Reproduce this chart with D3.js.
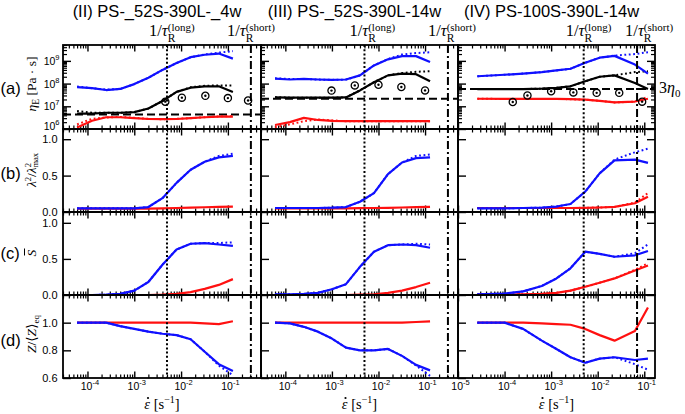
<!DOCTYPE html>
<html><head><meta charset="utf-8">
<script src="https://cdn.jsdelivr.net/npm/d3@7"></script>
<style>body{margin:0;background:#fff}svg{display:block}</style>
</head><body><svg id="c" width="685" height="414"></svg>
<script>
// ---------------- DATA ----------------
const panelTitles = ["(II) PS-_52S-390L-_4w", "(III) PS-_52S-390L-14w", "(IV) PS-100S-390L-14w"];
const rowLetters = ["(a)", "(b)", "(c)", "(d)"];
const xTickLabelsExp = ["-5", "-4", "-3", "-2", "-1"];
const yTickLabelsA = ["6", "7", "8", "9"];
const yTickLabelsB = ["0.0", "0.5", "1.0"];
const yTickLabelsC = ["0.0", "0.5", "1.0"];
const yTickLabelsD = ["0.6", "0.8", "1.0"];

// strain-rate grids [1/s]
const ratesA = [6e-5, 1.25e-4, 2.5e-4, 5e-4, 1e-3, 2e-3, 4e-3, 8e-3, 1.6e-2, 3.2e-2, 6.4e-2, 1.28e-1];
const ratesB = [2.6e-5, 1e-4, 2.5e-4, 6.3e-4, 1.3e-3, 2.6e-3, 5.4e-3, 1.1e-2, 2.3e-2, 6.3e-2, 1.2e-1];

// characteristic rates (1/tau_R long / short)
const rateLong = [5e-3, 5e-3, 5e-3];
const rateShort = [0.31, 0.31, 0.07];
// 3 eta0
const eta3 = [4.4e6, 2.15e7, 5.75e7];

// ---- (II) ----
const etaBlue_II    = [7.0e7, 6.3e7, 5.2e7, 5.8e7, 9.5e7, 1.8e8, 4.0e8, 8.0e8, 1.45e9, 1.86e9, 2.1e9, 1.26e9];
const etaBlueDot_II = [7.4e7, 6.3e7, 5.4e7, 5.8e7, 9.5e7, 1.8e8, 4.0e8, 8.0e8, 1.45e9, 1.9e9, 2.3e9, 2.7e9];
const etaBlack_II   = [4.8e6, 4.8e6, 5.2e6, 5.2e6, 5.5e6, 8.0e6, 1.7e7, 4.3e7, 6.6e7, 7.6e7, 7.6e7, 4.3e7];
const etaBlackDot_II= [6.2e6, 5.2e6, 5.2e6, 5.2e6, 5.5e6, 8.0e6, 1.7e7, 4.3e7, 6.9e7, 8.0e7, 8.3e7, 8.3e7];
const etaRed_II     = [1.15e6, 2.3e6, 3.3e6, 3.3e6, 3.0e6, 2.75e6, 2.7e6, 2.75e6, 3.0e6, 3.3e6, 3.5e6, 3.5e6];
const etaRedDot_II  = [1.6e6, 2.8e6, 3.2e6, 3.4e6, 3.1e6, 2.8e6, 2.7e6, 2.8e6, 3.0e6, 3.3e6, 3.6e6, 3.6e6];
const expRate_II    = [4.6e-3, 1.04e-2, 3.3e-2, 0.10, 0.27];
const expEta_II     = [1.6e7, 2.4e7, 2.9e7, 2.3e7, 1.8e7];
const lamBlue_II    = [0.05, 0.05, 0.05, 0.05, 0.05, 0.068, 0.19, 0.40, 0.58, 0.69, 0.75, 0.77];
const lamBlueDot_II = [0.05, 0.05, 0.05, 0.05, 0.05, 0.068, 0.19, 0.40, 0.58, 0.69, 0.77, 0.80];
const lamRed_II     = [0.045, 0.045, 0.045, 0.045, 0.045, 0.047, 0.05, 0.055, 0.06, 0.065, 0.07, 0.075];
const sBlue_II      = [0.0, 0.0, 0.005, 0.015, 0.06, 0.18, 0.42, 0.63, 0.71, 0.72, 0.70, 0.68];
const sBlueDot_II   = [0.0, 0.0, 0.005, 0.015, 0.06, 0.18, 0.42, 0.63, 0.71, 0.72, 0.72, 0.73];
const sRed_II       = [0, 0, 0, 0, 0, 0, 0.005, 0.015, 0.04, 0.085, 0.14, 0.22];
const zBlue_II      = [1.0, 1.0, 1.0, 0.975, 0.955, 0.935, 0.92, 0.91, 0.88, 0.79, 0.70, 0.65];
const zBlueDot_II   = [1.0, 1.0, 1.0, 0.975, 0.955, 0.935, 0.92, 0.91, 0.88, 0.79, 0.69, 0.62];
const zRed_II       = [1.0, 1.0, 1.0, 1.0, 1.0, 1.0, 1.0, 1.0, 1.0, 0.995, 0.99, 1.01];

// ---- (III) ----
const etaBlue_III    = [1.66e8, 1.51e8, 1.62e8, 1.51e8, 1.45e8, 1.51e8, 2.3e8, 6.3e8, 1.17e9, 1.62e9, 1.62e9, 8.9e8];
const etaBlueDot_III = [1.7e8, 1.6e8, 1.6e8, 1.5e8, 1.45e8, 1.5e8, 2.3e8, 6.3e8, 1.2e9, 1.9e9, 2.2e9, 2.4e9];
const etaBlack_III   = [2.45e7, 2.4e7, 2.4e7, 2.4e7, 2.4e7, 2.45e7, 5.0e7, 1.15e8, 2.3e8, 2.75e8, 2.6e8, 1.26e8];
const etaBlackDot_III= [2.5e7, 2.4e7, 2.4e7, 2.4e7, 2.4e7, 2.45e7, 5.0e7, 1.15e8, 2.3e8, 2.9e8, 3.3e8, 3.5e8];
const etaRed_III     = [1.5e6, 2.0e6, 3.1e6, 2.5e6, 2.3e6, 2.2e6, 2.2e6, 2.2e6, 2.2e6, 2.2e6, 2.2e6, 2.2e6];
const etaRedDot_III  = [1.2e6, 1.6e6, 2.2e6, 2.6e6, 2.4e6, 2.2e6, 2.2e6, 2.2e6, 2.2e6, 2.2e6, 2.2e6, 2.2e6];
const expRate_III    = [9.8e-4, 3.1e-3, 1.0e-2, 3.1e-2, 0.10];
const expEta_III     = [4.9e7, 8.3e7, 8.9e7, 7.1e7, 5.0e7];
const lamBlue_III    = [0.055, 0.055, 0.055, 0.055, 0.059, 0.068, 0.14, 0.26, 0.52, 0.68, 0.74, 0.75];
const lamBlueDot_III = [0.055, 0.055, 0.055, 0.055, 0.059, 0.068, 0.14, 0.26, 0.52, 0.68, 0.77, 0.79];
const lamRed_III     = [0.05, 0.05, 0.05, 0.05, 0.05, 0.05, 0.052, 0.055, 0.058, 0.062, 0.066, 0.07];
const sBlue_III      = [0.01, 0.01, 0.015, 0.03, 0.08, 0.15, 0.39, 0.60, 0.69, 0.70, 0.69, 0.655];
const sBlueDot_III   = [0.01, 0.01, 0.015, 0.03, 0.08, 0.15, 0.39, 0.60, 0.69, 0.70, 0.71, 0.70];
const sRed_III       = [0, 0, 0, 0, 0, 0, 0.005, 0.01, 0.03, 0.06, 0.11, 0.17];
const zBlue_III      = [1.0, 0.995, 0.97, 0.935, 0.885, 0.82, 0.80, 0.80, 0.81, 0.76, 0.695, 0.655];
const zBlueDot_III   = [1.0, 0.995, 0.97, 0.935, 0.885, 0.82, 0.80, 0.80, 0.81, 0.76, 0.69, 0.615];
const zRed_III       = [1.0, 1.0, 1.0, 1.0, 1.0, 1.0, 1.0, 1.0, 1.0, 1.0, 1.005, 1.01];

// ---- (IV) ----
const etaBlue_IV    = [2.1e8, 2.45e8, 2.75e8, 3.2e8, 3.8e8, 4.5e8, 8.3e8, 1.38e9, 1.66e9, 6.9e8, 2.75e8];
const etaBlueDot_IV = [2.1e8, 2.45e8, 2.75e8, 3.2e8, 3.8e8, 4.5e8, 8.3e8, 1.38e9, 1.7e9, 2.0e9, 2.4e9];
const etaBlack_IV   = [5.75e7, 5.75e7, 5.75e7, 6.0e7, 6.5e7, 7.6e7, 1.26e8, 2.0e8, 2.3e8, 1.07e8, 5.75e7];
const etaBlackDot_IV= [5.75e7, 5.75e7, 5.75e7, 6.0e7, 6.5e7, 7.6e7, 1.26e8, 2.0e8, 2.3e8, 3.2e8, 3.5e8];
const etaRed_IV     = [2.15e7, 2.1e7, 2.1e7, 2.1e7, 2.1e7, 2.05e7, 1.95e7, 1.74e7, 1.48e7, 1.62e7, 2.15e7];
const etaRedDot_IV  = [2.15e7, 2.1e7, 2.1e7, 2.1e7, 2.1e7, 2.05e7, 1.95e7, 1.74e7, 1.48e7, 1.6e7, 2.6e7];
const expRate_IV    = [1.5e-4, 3.1e-4, 1.0e-3, 3.0e-3, 9.5e-3, 2.9e-2, 9.0e-2];
const expEta_IV     = [1.55e7, 3.0e7, 4.6e7, 4.1e7, 3.9e7, 3.9e7, 1.6e7];
const lamBlue_IV    = [0.05, 0.05, 0.055, 0.059, 0.075, 0.11, 0.28, 0.53, 0.71, 0.72, 0.675];
const lamBlueDot_IV = [0.05, 0.05, 0.055, 0.059, 0.075, 0.11, 0.28, 0.53, 0.72, 0.82, 0.87];
const lamRed_IV     = [0.055, 0.055, 0.055, 0.055, 0.055, 0.055, 0.058, 0.062, 0.07, 0.12, 0.21];
const lamRedDot_IV  = [0.055, 0.055, 0.055, 0.055, 0.055, 0.055, 0.058, 0.062, 0.07, 0.13, 0.26];
const sBlue_IV      = [0.01, 0.02, 0.05, 0.125, 0.23, 0.37, 0.60, 0.57, 0.53, 0.55, 0.61];
const sBlueDot_IV   = [0.01, 0.02, 0.05, 0.125, 0.23, 0.37, 0.60, 0.57, 0.53, 0.58, 0.70];
const sRed_IV       = [0.005, 0.005, 0.01, 0.015, 0.03, 0.06, 0.115, 0.17, 0.23, 0.34, 0.41];
const sRedDot_IV    = [0.005, 0.005, 0.01, 0.015, 0.03, 0.06, 0.115, 0.17, 0.23, 0.35, 0.44];
const zBlue_IV      = [1.0, 1.0, 0.955, 0.87, 0.81, 0.75, 0.71, 0.74, 0.75, 0.73, 0.74];
const zBlueDot_IV   = [1.0, 1.0, 0.955, 0.87, 0.81, 0.75, 0.71, 0.74, 0.75, 0.70, 0.66];
const zRed_IV       = [1.0, 1.0, 1.0, 0.995, 0.99, 0.985, 0.955, 0.91, 0.87, 0.94, 1.11];

// ---------------- LAYOUT ----------------
const BLUE = "#1010ff", RED = "#ff1010";
const svg = d3.select("#c");
const cols = [
  {x0: 63, x1: 261, dom: [3e-5, 0.51]},
  {x0: 261, x1: 458, dom: [3e-5, 0.51]},
  {x0: 458, x1: 655, dom: [1e-5, 0.17]}
];
const rows = [
  {key: "a", y0: 45, y1: 129, y: d3.scaleLog().domain([1e6, 5e9]).range([129, 45])},
  {key: "b", y0: 129, y1: 212, y: d3.scaleLinear().domain([0, 1.14]).range([212, 129])},
  {key: "c", y0: 212, y1: 295, y: d3.scaleLinear().domain([0, 1.15]).range([295, 212])},
  {key: "d", y0: 295, y1: 378, y: d3.scaleLinear().domain([0.6, 1.2]).range([378, 295])}
];
cols.forEach(c => c.x = d3.scaleLog().domain(c.dom).range([c.x0, c.x1]));

const panels = [
  {rates: ratesA,
   a: [[etaRedDot_II, RED, 1], [etaRed_II, RED, 0], [etaBlackDot_II, "#000", 1], [etaBlack_II, "#000", 0], [etaBlueDot_II, BLUE, 1], [etaBlue_II, BLUE, 0]],
   b: [[lamRed_II, RED, 0], [lamBlueDot_II, BLUE, 1], [lamBlue_II, BLUE, 0]],
   c: [[sRed_II, RED, 0], [sBlueDot_II, BLUE, 1], [sBlue_II, BLUE, 0]],
   d: [[zRed_II, RED, 0], [zBlueDot_II, BLUE, 1], [zBlue_II, BLUE, 0]],
   expR: expRate_II, expE: expEta_II},
  {rates: ratesA,
   a: [[etaRedDot_III, RED, 1], [etaRed_III, RED, 0], [etaBlackDot_III, "#000", 1], [etaBlack_III, "#000", 0], [etaBlueDot_III, BLUE, 1], [etaBlue_III, BLUE, 0]],
   b: [[lamRed_III, RED, 0], [lamBlueDot_III, BLUE, 1], [lamBlue_III, BLUE, 0]],
   c: [[sRed_III, RED, 0], [sBlueDot_III, BLUE, 1], [sBlue_III, BLUE, 0]],
   d: [[zRed_III, RED, 0], [zBlueDot_III, BLUE, 1], [zBlue_III, BLUE, 0]],
   expR: expRate_III, expE: expEta_III},
  {rates: ratesB,
   a: [[etaRedDot_IV, RED, 1], [etaRed_IV, RED, 0], [etaBlackDot_IV, "#000", 1], [etaBlack_IV, "#000", 0], [etaBlueDot_IV, BLUE, 1], [etaBlue_IV, BLUE, 0]],
   b: [[lamRedDot_IV, RED, 1], [lamRed_IV, RED, 0], [lamBlueDot_IV, BLUE, 1], [lamBlue_IV, BLUE, 0]],
   c: [[sRedDot_IV, RED, 1], [sRed_IV, RED, 0], [sBlueDot_IV, BLUE, 1], [sBlue_IV, BLUE, 0]],
   d: [[zRed_IV, RED, 0], [zBlueDot_IV, BLUE, 1], [zBlue_IV, BLUE, 0]],
   expR: expRate_IV, expE: expEta_IV}
];

const defs = svg.append("defs");
const SANS = "'Liberation Sans', Arial, sans-serif";
const SERIF = "'Liberation Serif', 'DejaVu Serif', serif";

function logTicks(dom) {
  const maj = [], min = [];
  for (let e = -8; e <= 12; e++) {
    const p = Math.pow(10, e);
    if (p >= dom[0] * 0.999 && p <= dom[1] * 1.001) maj.push(p);
    for (let k = 2; k <= 9; k++) { const v = k * p; if (v >= dom[0] && v <= dom[1]) min.push(v); }
  }
  return {maj, min};
}

function styleAxis(g, w) {
  g.select(".domain").remove();
  g.selectAll(".tick line").attr("stroke", "#000").attr("stroke-width", w);
  g.selectAll(".tick text").remove();
}

cols.forEach((c, ci) => {
  const xt = logTicks(c.dom);
  const P = panels[ci];
  rows.forEach((r, ri) => {
    const cell = svg.append("g");
    const clipId = `clip${ci}${ri}`;
    defs.append("clipPath").attr("id", clipId).append("rect")
      .attr("x", c.x0).attr("y", r.y0).attr("width", c.x1 - c.x0).attr("height", r.y1 - r.y0);

    [[d3.axisBottom, r.y1], [d3.axisTop, r.y0]].forEach(([ax, yy]) => {
      cell.append("g").attr("transform", `translate(0,${yy})`)
        .call(ax(c.x).tickValues(xt.maj).tickSize(-6.5).tickFormat("")).call(g => styleAxis(g, 1.4));
      cell.append("g").attr("transform", `translate(0,${yy})`)
        .call(ax(c.x).tickValues(xt.min).tickSize(-3.5).tickFormat("")).call(g => styleAxis(g, 1.2));
    });
    let ymaj, ymin = [];
    if (r.key === "a") { const t = logTicks(r.y.domain()); ymaj = t.maj; ymin = t.min; }
    else if (r.key === "d") ymaj = [0.6, 0.8, 1.0];
    else ymaj = [0, 0.5, 1.0];
    const yAxes = [[d3.axisLeft, c.x0]];
    if (ci === 2) yAxes.push([d3.axisRight, c.x1]);
    yAxes.forEach(([ax, xx]) => {
      cell.append("g").attr("transform", `translate(${xx},0)`)
        .call(ax(r.y).tickValues(ymaj).tickSize(-8).tickFormat("")).call(g => styleAxis(g, 1.4));
      if (ymin.length) cell.append("g").attr("transform", `translate(${xx},0)`)
        .call(ax(r.y).tickValues(ymin).tickSize(-4).tickFormat("")).call(g => styleAxis(g, 1.2));
    });

    const dg = cell.append("g").attr("clip-path", `url(#${clipId})`);
    if (r.key === "a") {
      dg.append("line").attr("x1", c.x0).attr("x2", c.x1)
        .attr("y1", r.y(eta3[ci])).attr("y2", r.y(eta3[ci]))
        .attr("stroke", "#000").attr("stroke-width", 2).attr("stroke-dasharray", "8,4");
    }
    const line = d3.line().x((d, i) => c.x(P.rates[i])).y(d => r.y(d));
    P[r.key].forEach(([vals, col, dotted]) => {
      dg.append("path").attr("d", line(vals)).attr("fill", "none").attr("stroke", col)
        .attr("stroke-width", dotted ? 2 : 2.2)
        .attr("stroke-dasharray", dotted ? "1.8,2.6" : null)
        .attr("stroke-linejoin", "round");
    });
    if (r.key === "a") {
      const pts = P.expR.map((v, i) => [v, P.expE[i]]);
      const mk = svg.append("g").selectAll("g").data(pts).join("g")
        .attr("transform", d => `translate(${c.x(d[0])},${r.y(d[1])})`);
      mk.append("circle").attr("r", 3.6).attr("fill", "none").attr("stroke", "#000").attr("stroke-width", 1.3);
      mk.append("circle").attr("r", 1.2).attr("fill", "#000");
    }
    cell.append("rect").attr("x", c.x0).attr("y", r.y0).attr("width", c.x1 - c.x0).attr("height", r.y1 - r.y0)
      .attr("fill", "none").attr("stroke", "#000").attr("stroke-width", 1.8);
  });

  svg.append("line").attr("x1", c.x(rateLong[ci])).attr("x2", c.x(rateLong[ci]))
    .attr("y1", 45).attr("y2", 378).attr("stroke", "#000").attr("stroke-width", 2).attr("stroke-dasharray", "2,2.2");
  svg.append("line").attr("x1", c.x(rateShort[ci])).attr("x2", c.x(rateShort[ci]))
    .attr("y1", 45).attr("y2", 378).attr("stroke", "#000").attr("stroke-width", 2).attr("stroke-dasharray", "8,3,2,3");

  svg.append("text").attr("x", (c.x0 + c.x1) / 2 - 5).attr("y", 17).attr("text-anchor", "middle")
    .attr("font-family", SANS).attr("font-size", 16.5).text(panelTitles[ci]);

  const lblOff = [[18, 24], [15, 20], [18, 12]][ci];
  [[rateLong[ci], "(long)", lblOff[0]], [rateShort[ci], "(short)", lblOff[1]]].forEach(([rv, sup, off]) => {
    const lx = c.x(rv) - off;
    const t = svg.append("text").attr("x", lx).attr("y", 36).attr("font-family", SERIF).attr("font-size", 16.5);
    t.append("tspan").text("1/");
    t.append("tspan").attr("font-style", "italic").text("τ");
    const w = t.node().getComputedTextLength();
    svg.append("text").attr("x", lx + w).attr("y", 41.5).attr("font-family", SERIF).attr("font-size", 11.5).text("R");
    svg.append("text").attr("x", lx + w).attr("y", 31).attr("font-family", SERIF).attr("font-size", 11).text(sup);
  });

  xt.maj.forEach(v => {
    const e = Math.round(Math.log10(v));
    const t = svg.append("text").attr("x", c.x(v) + 2.5).attr("y", 390).attr("text-anchor", "middle")
      .attr("font-family", SANS).attr("font-size", 10.5);
    t.append("tspan").text("10");
    t.append("tspan").attr("dy", -5).attr("font-size", 7.5).text(xTickLabelsExp[e + 5]);
  });
  const xt2 = svg.append("text").attr("x", (c.x0 + c.x1) / 2).attr("y", 409).attr("text-anchor", "middle")
    .attr("font-family", SERIF).attr("font-size", 14.5);
  xt2.append("tspan").attr("font-style", "italic").text("ε");
  xt2.append("tspan").text(" [s");
  xt2.append("tspan").attr("dy", -6).attr("font-size", 10).text("−1");
  xt2.append("tspan").attr("dy", 6).text("]");
  const n = xt2.node();
  const ex = (n.getStartPositionOfChar(0).x + n.getEndPositionOfChar(0).x) / 2;
  svg.append("circle").attr("cx", ex + 0.8).attr("cy", 398).attr("r", 1.1).attr("fill", "#000");
});

// y tick labels (first column)
yTickLabelsA.forEach(s => {
  const v = Math.pow(10, +s);
  const t = svg.append("text").attr("x", 59.5).attr("y", rows[0].y(v) + 4 - (s === "6" ? 3 : 0)).attr("text-anchor", "end")
    .attr("font-family", SANS).attr("font-size", 10.5);
  t.append("tspan").text("10");
  t.append("tspan").attr("dy", -5).attr("font-size", 7.5).text(s);
});
[[rows[1], yTickLabelsB], [rows[2], yTickLabelsC], [rows[3], yTickLabelsD]].forEach(([r, labs]) => {
  labs.forEach(s => {
    svg.append("text").attr("x", 57.5).attr("y", r.y(+s) + 4).attr("text-anchor", "end")
      .attr("font-family", SANS).attr("font-size", 11).text(s);
  });
});

// row letters
[[94, 0], [179, 1], [259, 2], [346, 3]].forEach(([y, i]) => {
  svg.append("text").attr("x", 0.5).attr("y", y).attr("font-family", SANS).attr("font-size", 16.5).text(rowLetters[i]);
});

// rotated y labels
function ylab(cy, build) {
  const g = svg.append("g").attr("transform", `translate(35.5,${cy}) rotate(-90)`);
  const t = g.append("text").attr("text-anchor", "middle").attr("font-family", SERIF).attr("font-size", 13.5);
  build(t, g);
}
ylab(84, t => {
  t.append("tspan").attr("font-style", "italic").text("η");
  t.append("tspan").attr("dy", 3).attr("font-size", 9.5).text("E");
  t.append("tspan").attr("dy", -3).text(" [Pa · s]");
});
ylab(170, t => {
  t.append("tspan").attr("font-style", "italic").text("λ");
  t.append("tspan").attr("dy", -5).attr("font-size", 8.5).text("2");
  t.append("tspan").attr("dy", 5).text("/");
  t.append("tspan").attr("font-style", "italic").text("λ");
  t.append("tspan").attr("dy", -5).attr("font-size", 8.5).text("2");
  t.append("tspan").attr("dy", 7.5).attr("dx", -4.5).attr("font-size", 8.5).text("max");
});
ylab(253, (t, g) => {
  t.append("tspan").attr("font-style", "italic").text("S");
  g.append("line").attr("x1", -2.5).attr("x2", 4.5).attr("y1", -11).attr("y2", -11)
    .attr("stroke", "#000").attr("stroke-width", 1);
});
ylab(334, t => {
  t.append("tspan").attr("font-style", "italic").text("Z");
  t.append("tspan").text("/⟨");
  t.append("tspan").attr("font-style", "italic").text("Z");
  t.append("tspan").text("⟩");
  t.append("tspan").attr("dy", 3).attr("font-size", 9).text("eq");
});

// 3 eta0 label
const e0 = svg.append("text").attr("x", 659).attr("y", 93).attr("font-family", SERIF).attr("font-size", 16);
e0.append("tspan").text("3");
e0.append("tspan").attr("font-style", "italic").text("η");
e0.append("tspan").attr("dy", 4).attr("font-size", 11).text("0");
</script></body></html>
